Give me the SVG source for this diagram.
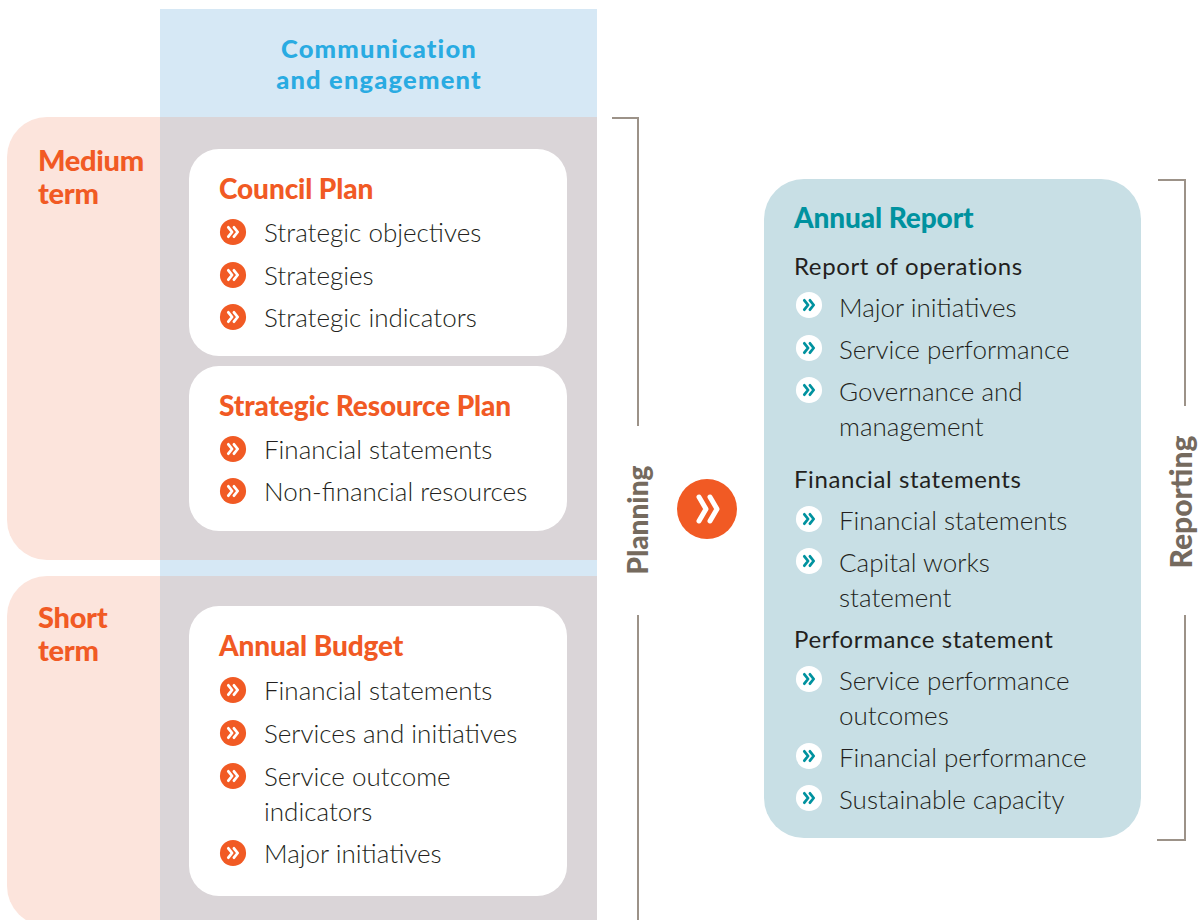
<svg xmlns="http://www.w3.org/2000/svg" width="1203" height="920" viewBox="0 0 1203 920">
  <style>
    .head { font-family: Lato, "Liberation Sans", sans-serif; font-weight: 900; }
    .term { font-size: 29px; fill: #F15A24; letter-spacing: -0.3px; }
    .comm { font-size: 25.5px; fill: #29ABE2; letter-spacing: 1.2px; }
    .ttl { font-size: 28px; fill: #F15A24; letter-spacing: -0.1px; }
    .ttl-t { font-size: 28px; fill: #00929F; letter-spacing: -0.1px; }
    .item { font-family: Lato, "Liberation Sans", sans-serif; font-weight: 300; font-size: 26px; fill: #231F20; }
    .sub { font-family: Lato, "Liberation Sans", sans-serif; font-weight: 400; font-size: 24px; fill: #231F20; letter-spacing: 0.6px; }
    .side { font-family: Lato, "Liberation Sans", sans-serif; font-weight: 900; font-size: 28px; fill: #756A5E; }
    .brk { fill: none; stroke: #9C9288; stroke-width: 2; }
  </style>
  <defs>
    <symbol id="bul-o" viewBox="-15 -15 30 30" overflow="visible">
      <circle r="14" fill="#F15A24"/>
      <path d="M-5,-5 L-1,0 L-5,5 M1,-5 L5,0 L1,5" fill="none" stroke="#fff" stroke-width="3" stroke-linecap="round" stroke-linejoin="round"/>
    </symbol>
    <symbol id="bul-t" viewBox="-15 -15 30 30" overflow="visible">
      <circle r="14" fill="#fff"/>
      <path d="M-5,-5 L-1,0 L-5,5 M1,-5 L5,0 L1,5" fill="none" stroke="#00929F" stroke-width="3" stroke-linecap="round" stroke-linejoin="round"/>
    </symbol>
  </defs>

  <!-- background bands -->
  <g id="communication">
    <rect x="160" y="9" width="437" height="911" fill="#D6E8F5"/>
    <text class="head comm" x="379" y="58" text-anchor="middle">Communication</text>
    <text class="head comm" x="379" y="89" text-anchor="middle">and engagement</text>
  </g>

  <g id="medium-term">
    <rect x="7" y="117" width="200" height="443" rx="40" fill="#FCE4DC"/>
    <rect x="160" y="117" width="437" height="443" fill="#DAD5D8"/>
    <text class="head term" x="38" y="171">Medium</text>
    <text class="head term" x="38" y="204">term</text>
  </g>

  <g id="short-term">
    <rect x="7" y="576" width="200" height="350" rx="40" fill="#FCE4DC"/>
    <rect x="160" y="576" width="437" height="344" fill="#DAD5D8"/>
    <text class="head term" x="38" y="628">Short</text>
    <text class="head term" x="38" y="661">term</text>
  </g>

  <g id="council-plan">
    <rect x="189" y="149" width="378" height="207" rx="30" fill="#fff"/>
    <text class="head ttl" x="219" y="199">Council Plan</text>
    <use href="#bul-o" x="219" y="218" width="28" height="28"/>
    <text class="item" x="264" y="242">Strategic objectives</text>
    <use href="#bul-o" x="219" y="261" width="28" height="28"/>
    <text class="item" x="264" y="285">Strategies</text>
    <use href="#bul-o" x="219" y="303" width="28" height="28"/>
    <text class="item" x="264" y="327">Strategic indicators</text>
  </g>

  <g id="strategic-resource-plan">
    <rect x="189" y="366" width="378" height="165" rx="30" fill="#fff"/>
    <text class="head ttl" x="219" y="416">Strategic Resource Plan</text>
    <use href="#bul-o" x="219" y="435" width="28" height="28"/>
    <text class="item" x="264" y="459">Financial statements</text>
    <use href="#bul-o" x="219" y="477" width="28" height="28"/>
    <text class="item" x="264" y="501">Non-financial resources</text>
  </g>

  <g id="annual-budget">
    <rect x="189" y="606" width="378" height="290" rx="30" fill="#fff"/>
    <text class="head ttl" x="219" y="656">Annual Budget</text>
    <use href="#bul-o" x="219" y="676" width="28" height="28"/>
    <text class="item" x="264" y="700">Financial statements</text>
    <use href="#bul-o" x="219" y="719" width="28" height="28"/>
    <text class="item" x="264" y="743">Services and initiatives</text>
    <use href="#bul-o" x="219" y="762" width="28" height="28"/>
    <text class="item" x="264" y="786">Service outcome</text>
    <text class="item" x="264" y="821">indicators</text>
    <use href="#bul-o" x="219" y="839" width="28" height="28"/>
    <text class="item" x="264" y="863">Major initiatives</text>
  </g>

  <g id="annual-report">
    <rect x="764" y="179" width="377" height="659" rx="40" fill="#C8DFE5"/>
    <text class="head ttl-t" x="794" y="228">Annual Report</text>
    <text class="sub" x="794" y="275">Report of operations</text>
    <use href="#bul-t" x="795" y="291" width="28" height="28"/>
    <text class="item" x="839" y="317">Major initiatives</text>
    <use href="#bul-t" x="795" y="334" width="28" height="28"/>
    <text class="item" x="839" y="359">Service performance</text>
    <use href="#bul-t" x="795" y="376" width="28" height="28"/>
    <text class="item" x="839" y="401">Governance and</text>
    <text class="item" x="839" y="436">management</text>
    <text class="sub" x="794" y="488">Financial statements</text>
    <use href="#bul-t" x="795" y="505" width="28" height="28"/>
    <text class="item" x="839" y="530">Financial statements</text>
    <use href="#bul-t" x="795" y="547" width="28" height="28"/>
    <text class="item" x="839" y="572">Capital works</text>
    <text class="item" x="839" y="607">statement</text>
    <text class="sub" x="794" y="648">Performance statement</text>
    <use href="#bul-t" x="795" y="665" width="28" height="28"/>
    <text class="item" x="839" y="690">Service performance</text>
    <text class="item" x="839" y="725">outcomes</text>
    <use href="#bul-t" x="795" y="742" width="28" height="28"/>
    <text class="item" x="839" y="767">Financial performance</text>
    <use href="#bul-t" x="795" y="784" width="28" height="28"/>
    <text class="item" x="839" y="809">Sustainable capacity</text>
  </g>

  <!-- brackets, side labels and the flow arrow -->
  <g id="connectors">
    <path class="brk" d="M612,118 H638 V426 M638,615 V920"/>
    <text class="side" transform="translate(648 520) rotate(-90)" text-anchor="middle">Planning</text>
    <path class="brk" d="M1158,180 H1185 V406 M1185,615 V840 H1157"/>
    <text class="side" transform="translate(1192 502) rotate(-90)" text-anchor="middle" style="font-size:30px">Reporting</text>
    <g id="flow-arrow">
      <circle cx="707" cy="509" r="30" fill="#F15A24"/>
      <path d="M699,497 L706,509 L699,521 M710,497 L717,509 L710,521" fill="none" stroke="#fff" stroke-width="5" stroke-linecap="round" stroke-linejoin="round"/>
    </g>
  </g>
</svg>
